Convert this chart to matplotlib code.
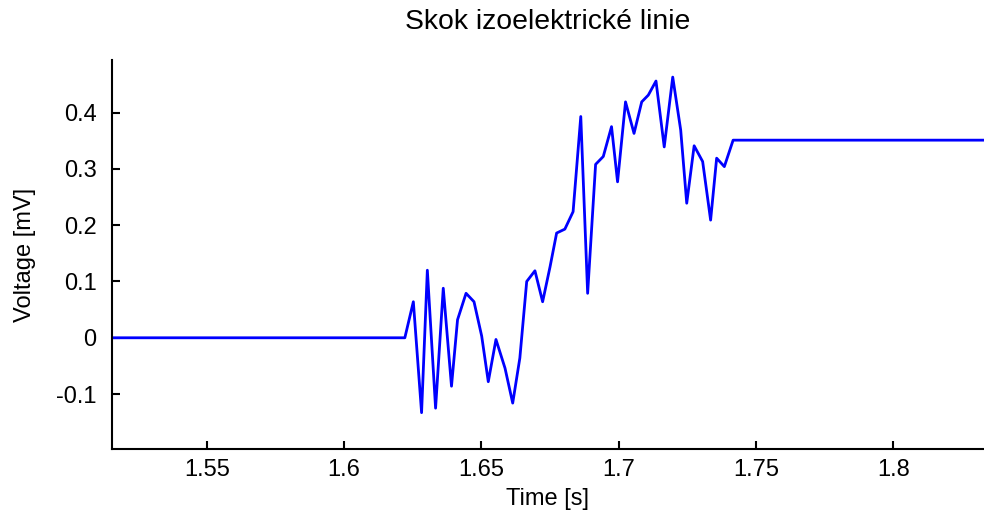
import matplotlib.pyplot as plt

# baseline jump of the isoelectric line
time = [1.50, 1.6221, 1.6252, 1.6282, 1.6303, 1.6333, 1.6361, 1.6391, 1.6413,
        1.6444, 1.6473, 1.6501, 1.6525, 1.6553, 1.6586, 1.6614, 1.6640, 1.6665,
        1.6695, 1.6723, 1.6750, 1.6774, 1.6804, 1.6834, 1.6862, 1.6887, 1.6916,
        1.6944, 1.6974, 1.6996, 1.7025, 1.7056, 1.7084, 1.7108, 1.7136, 1.7166,
        1.7197, 1.7226, 1.7248, 1.7275, 1.7306, 1.7335, 1.7357, 1.7385, 1.7417,
        1.85]
voltage = [0.0, 0.0, 0.064, -0.133, 0.120, -0.125, 0.088, -0.086, 0.032,
           0.079, 0.064, 0.003, -0.078, -0.003, -0.054, -0.116, -0.036, 0.100,
           0.119, 0.064, 0.126, 0.186, 0.193, 0.224, 0.393, 0.079, 0.308,
           0.322, 0.375, 0.277, 0.419, 0.363, 0.419, 0.431, 0.456, 0.339,
           0.463, 0.369, 0.239, 0.341, 0.313, 0.209, 0.319, 0.304, 0.351,
           0.351]

xticks = [1.55, 1.6, 1.65, 1.7, 1.75, 1.8]
xticklabels = ["1.55", "1.6", "1.65", "1.7", "1.75", "1.8"]
yticks = [-0.1, 0, 0.1, 0.2, 0.3, 0.4]
yticklabels = ["-0.1", "0", "0.1", "0.2", "0.3", "0.4"]

plt.rcParams['font.family'] = ['Liberation Sans', 'DejaVu Sans']
plt.rcParams['font.size'] = 17

fig = plt.figure(figsize=(9.84, 5.14), dpi=100)
ax = fig.add_axes([0.1135, 0.1265, 0.8865, 0.7568])

ax.plot(time, voltage, color='#0000ff', linewidth=2.0)

ax.set_xlim(1.5153, 1.8331)
ax.set_ylim(-0.1975, 0.4934)
ax.set_xticks(xticks)
ax.set_xticklabels(xticklabels)
ax.set_yticks(yticks)
ax.set_yticklabels(yticklabels)

for side in ['top', 'right']:
    ax.spines[side].set_visible(False)
for side in ['left', 'bottom']:
    ax.spines[side].set_linewidth(1.5)
ax.tick_params(axis='both', direction='in', length=6, width=1.5)
ax.tick_params(axis='x', pad=7)
ax.tick_params(axis='y', pad=11)

ax.set_title("Skok izoelektrické linie", pad=22)
ax.set_xlabel("Time [s]", labelpad=5)
ax.set_ylabel("Voltage [mV]", labelpad=14)

fig.savefig("out.png", dpi=100)
